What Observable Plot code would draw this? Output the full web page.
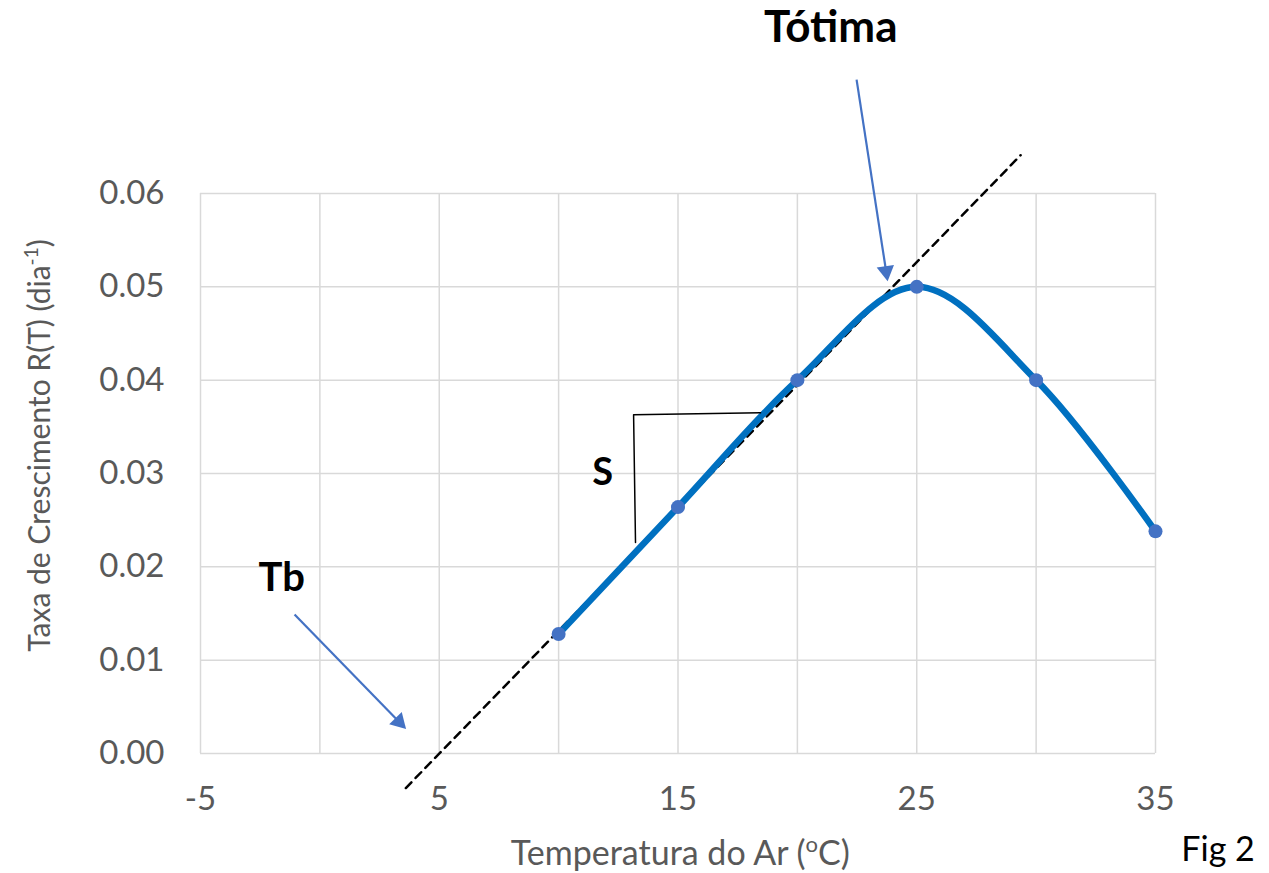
<!DOCTYPE html>
<html>
<head>
<meta charset="utf-8">
<script src="https://cdn.jsdelivr.net/npm/d3@7"></script>
<script src="https://cdn.jsdelivr.net/npm/@observablehq/plot@0.6"></script>
<style>
  html, body { margin: 0; padding: 0; background: #fff; }
  #chart svg { display: block; }
</style>
</head>
<body>
<div id="chart"></div>
<script>
// Data
const temps = [10, 15, 20, 25, 30, 35];
const rates = [0.0128, 0.0264, 0.040, 0.050, 0.040, 0.0238];

// Tick values
const xTickLabels = [-5, 5, 15, 25, 35];
const xGrid = [-5, 0, 5, 10, 15, 20, 25, 30, 35];
const yTicks = [0, 0.01, 0.02, 0.03, 0.04, 0.05, 0.06];

// Dashed tangent line (slope S through Tb)
const slopeX = [3.6, 29.35];
const slopeY = [-0.0037, 0.0641];

// "S" bracket
const bracketX = [13.22, 13.14, 18.46];
const bracketY = [0.0226, 0.0363, 0.0365];

// Annotation arrows: start and arrowhead centre
const arrowX1 = [22.48, -1.06];
const arrowY1 = [0.0722, 0.0149];
const arrowX2 = [23.716, 3.314];
const arrowY2 = [0.05167, 0.0034];
const arrowRot = [171.2, 135.8];

// Annotation labels
const annText = ["Tótima", "Tb", "S"];
const annX = [21.4, -1.6, 11.85];
const annY = [0.0777, 0.0188, 0.0301];
const annSize = [44, 40, 38];

// Axis titles
const xTitle = "Temperatura do Ar (oC)";
const yTitle = "Taxa de Crescimento R(T) (dia-1)";
const figLabel = "Fig 2";

const pts = temps.map((t, i) => ({t, r: rates[i]}));
const slope = slopeX.map((x, i) => ({x, y: slopeY[i]}));
const bracket = bracketX.map((x, i) => ({x, y: bracketY[i]}));
const arrows = arrowX1.map((x, i) => ({x1: x, y1: arrowY1[i], x2: arrowX2[i], y2: arrowY2[i], rot: arrowRot[i]}));
const anns = annText.map((s, i) => ({s, x: annX[i], y: annY[i], size: annSize[i]}));

const FONT = "Lato, 'Open Sans', sans-serif";
const GREY = "#595959";

const chart = Plot.plot({
  width: 1269,
  height: 873,
  marginLeft: 200,
  marginRight: 114,
  marginTop: 193,
  marginBottom: 120,
  style: {fontFamily: FONT, background: "#fff", overflow: "visible"},
  x: {domain: [-5, 35]},
  y: {domain: [0, 0.06]},
  marks: [
    Plot.gridX(xGrid, {stroke: "#d9d9d9", strokeOpacity: 1, strokeWidth: 1.5}),
    Plot.gridY(yTicks, {stroke: "#d9d9d9", strokeOpacity: 1, strokeWidth: 1.5}),
    Plot.axisX(xTickLabels, {tickSize: 0, tickPadding: 33, fontSize: 33, fill: GREY, label: null, tickFormat: d => String(d)}),
    Plot.axisY(yTicks, {tickSize: 0, tickPadding: 36, fontSize: 33, fill: GREY, tickFormat: d3.format(".2f"), label: null}),
    Plot.line(slope, {x: "x", y: "y", stroke: "black", strokeWidth: 2.5, strokeDasharray: "8,6", clip: false}),
    Plot.line(pts, {x: "t", y: "r", stroke: "#0070C0", strokeWidth: 6.5, curve: "catmull-rom"}),
    Plot.dot(pts, {x: "t", y: "r", r: 7, fill: "#4472C4", stroke: "none"}),
    Plot.line(bracket, {x: "x", y: "y", stroke: "black", strokeWidth: 1.5}),
    Plot.link(arrows, {x1: "x1", y1: "y1", x2: "x2", y2: "y2", stroke: "#4472C4", strokeWidth: 2.2, clip: false}),
    Plot.dot(arrows, {x: "x2", y: "y2", symbol: "triangle", r: 6.5, rotate: "rot", fill: "#4472C4", stroke: "none", clip: false}),
    Plot.text(anns, {x: "x", y: "y", text: "s", fontSize: d => d.size, fontWeight: "bold", fill: "black", clip: false}),
    Plot.text([xTitle], {x: 15.1, y: -0.0108, text: d => d, fontSize: 34, fill: GREY, clip: false}),
    Plot.text([yTitle], {x: -11.7, y: 0.0330, text: d => d, rotate: -90, fontSize: 30, fill: GREY, clip: false}),
    Plot.text([figLabel], {x: 37.62, y: -0.0104, text: d => d, fontSize: 34, fill: "black", clip: false})
  ]
});

document.getElementById("chart").appendChild(chart);

// Superscripts in the axis titles
function withSup(el, before, sup, after, supSize, shift) {
  el.textContent = "";
  const ns = "http://www.w3.org/2000/svg";
  const a = document.createElementNS(ns, "tspan"); a.textContent = before; el.appendChild(a);
  const b = document.createElementNS(ns, "tspan"); b.textContent = sup;
  b.setAttribute("font-size", supSize); b.setAttribute("dy", -shift); el.appendChild(b);
  const c = document.createElementNS(ns, "tspan"); c.textContent = after;
  c.setAttribute("dy", shift); el.appendChild(c);
}
chart.querySelectorAll("text").forEach(t => {
  if (t.textContent === xTitle) withSup(t, "Temperatura do Ar (", "o", "C)", 22, 13);
  else if (t.textContent === yTitle) withSup(t, "Taxa de Crescimento R(T) (dia", "-1", ")", 19, 12);
});
</script>
</body>
</html>
